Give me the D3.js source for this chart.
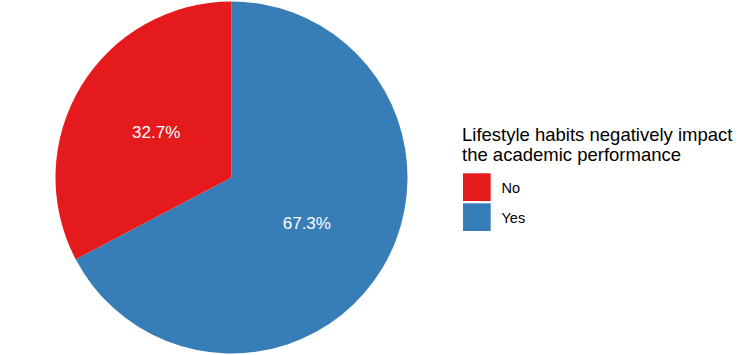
<!DOCTYPE html>
<html>
<head>
  <title>Lifestyle habits pie</title>
  <script src="https://d3js.org/d3.v7.min.js"></script>
</head>
<body style="margin:0">
  <style>
    text { font-family: "Liberation Sans", Arial, sans-serif; }
    .slice-label { font-size: 17px; fill: white; }
    .legend-title { font-size: 18.5px; fill: #000; }
    .legend-label { font-size: 14.5px; fill: #000; }
  </style>

  <svg id="chart"></svg>

  <script>
    var categories = ["Yes", "No"];
    var values = [67.3, 32.7];
    var colors = ["#377EB8", "#E41A1C"];
    var legendOrder = ["No", "Yes"];

    var width = 750;
    var height = 355;
    var cx = 231.5, cy = 177.5, radius = 176;

    var svg = d3.select("#chart")
      .attr("width", width)
      .attr("height", height);

    var color = d3.scaleOrdinal()
      .domain(categories)
      .range(colors);

    var pie = d3.pie()
      .sort(null)
      .value(function(d, i) { return values[i]; });

    var arcs = pie(categories);

    var arc = d3.arc()
      .innerRadius(0)
      .outerRadius(radius);

    var chart = svg.append("g")
      .attr("transform", "translate(" + cx + "," + cy + ")");

    chart.selectAll(".slice")
      .data(arcs)
      .enter()
      .append("path")
      .attr("class", "slice")
      .attr("d", arc)
      .attr("fill", d => color(d.data));

    chart.selectAll(".slice-label")
      .data(arcs)
      .enter()
      .append("text")
      .attr("class", "slice-label")
      .attr("transform", d => "translate(" + arc.centroid(d) + ")")
      .attr("text-anchor", "middle")
      .attr("dy", "0.36em")
      .text((d, i) => values[i].toFixed(1) + "%");

    // Legend
    var legend = svg.append("g")
      .attr("transform", "translate(462,0)");

    legend.append("text")
      .attr("class", "legend-title")
      .attr("x", 0)
      .attr("y", 141)
      .text("Lifestyle habits negatively impact");

    legend.append("text")
      .attr("class", "legend-title")
      .attr("x", 0)
      .attr("y", 161)
      .text("the academic performance");

    var keys = legend.selectAll(".key")
      .data(legendOrder)
      .enter()
      .append("g")
      .attr("class", "key")
      .attr("transform", (d, i) => "translate(1," + (173.3 + i * 30) + ")");

    keys.append("rect")
      .attr("width", 27.7)
      .attr("height", 27.7)
      .attr("fill", d => color(d));

    keys.append("text")
      .attr("class", "legend-label")
      .attr("x", 38.5)
      .attr("y", 14)
      .attr("dy", "0.36em")
      .text(d => d);
  </script>
</body>
</html>
